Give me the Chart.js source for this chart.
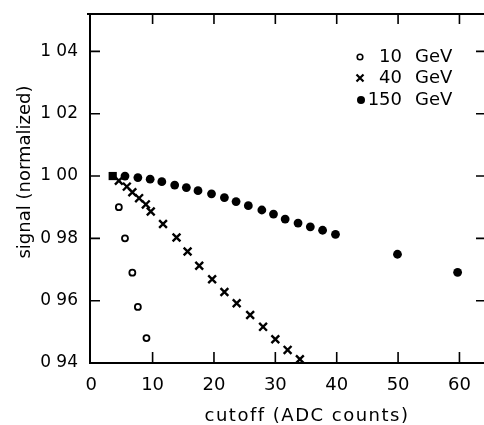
<!DOCTYPE html>
<html>
<head>
<meta charset="utf-8">
<script src="https://cdn.jsdelivr.net/npm/chart.js@4.4.0/dist/chart.umd.min.js"></script>
<style>
  html, body { margin: 0; padding: 0; background: #fff; }
</style>
</head>
<body>
<canvas id="cutoff-chart" width="484" height="425"></canvas>
<script>
const FONT = 'DejaVu Sans'
const INK = '#000'

// axis ticks
const xTickValues = [0, 10, 20, 30, 40, 50, 60]
const xTickLabels = ['0', '10', '20', '30', '40', '50', '60']
const yTickValues = [0.94, 0.96, 0.98, 1.00, 1.02, 1.04]
const yTickLabels = ['0 94', '0 96', '0 98', '1 00', '1 02', '1 04']

// common starting point (drawn as a square)
const startX = [3.5]
const startY = [1.000]

// 10 GeV
const gev10X = [4.5, 5.5, 6.7, 7.6, 9.0]
const gev10Y = [0.990, 0.980, 0.969, 0.958, 0.948]

// 40 GeV
const gev40X = [4.5, 5.8, 6.7, 7.8, 8.9, 9.7, 11.7, 13.9, 15.7, 17.6, 19.7, 21.7, 23.7, 25.9, 28.0, 30.0, 32.0, 34.0]
const gev40Y = [0.9985, 0.9966, 0.9948, 0.9929, 0.9909, 0.9886, 0.9846, 0.9803, 0.9758, 0.9712, 0.9669, 0.9628, 0.9592, 0.9554, 0.9516, 0.9476, 0.9442, 0.9412]

// 150 GeV
const gev150X = [5.5, 7.6, 9.6, 11.5, 13.6, 15.5, 17.4, 19.6, 21.7, 23.6, 25.6, 27.8, 29.7, 31.6, 33.7, 35.7, 37.7, 39.8, 49.9, 59.7]
const gev150Y = [1.0000, 0.9995, 0.9990, 0.9982, 0.9971, 0.9963, 0.9953, 0.9943, 0.9931, 0.9918, 0.9905, 0.9891, 0.9878, 0.9862, 0.9849, 0.9837, 0.9826, 0.9813, 0.9749, 0.9691]

const legendNames = ['10', '40', '150']

const pts = (xs, ys) => xs.map((x, i) => ({ x: x, y: ys[i] }))

// drop the label overflow padding so the plot box sits where the layout says
const noPad = s => { s.paddingTop = 0; s.paddingBottom = 0; s.paddingLeft = 0; s.paddingRight = 0 }

const frame = {
    id: 'frame',
    beforeDatasetsDraw(chart) {
        const { ctx, chartArea: a, scales: { x, y } } = chart
        ctx.save()
        ctx.strokeStyle = INK
        ctx.lineWidth = 2
        ctx.beginPath()
        ctx.moveTo(a.right, a.top)
        ctx.lineTo(a.left - 3, a.top)
        ctx.moveTo(a.left, a.top)
        ctx.lineTo(a.left, a.bottom)
        ctx.lineTo(a.right, a.bottom)
        ctx.stroke()

        ctx.lineWidth = 1.6
        ctx.beginPath()
        yTickValues.forEach(v => {
            const p = y.getPixelForValue(v)
            ctx.moveTo(a.left, p); ctx.lineTo(a.left + 10, p)
            ctx.moveTo(a.right - 8, p); ctx.lineTo(a.right, p)
        })
        xTickValues.slice(1).forEach(v => {
            const p = x.getPixelForValue(v)
            ctx.moveTo(p, a.bottom); ctx.lineTo(p, a.bottom - 11)
            ctx.moveTo(p, a.top); ctx.lineTo(p, a.top + 10)
        })
        ctx.stroke()
        ctx.restore()
    },
    afterDraw(chart) {
        const { ctx } = chart
        ctx.save()
        ctx.fillStyle = INK
        ctx.strokeStyle = INK

        // axis titles
        ctx.font = `18px "${FONT}"`
        ctx.textAlign = 'center'
        ctx.textBaseline = 'middle'
        ctx.letterSpacing = '1.5px'
        ctx.fillText('cutoff (ADC counts)', 307, 416)
        ctx.letterSpacing = '0px'
        ctx.save()
        ctx.translate(25, 172)
        ctx.rotate(-Math.PI / 2)
        ctx.fillText('signal (normalized)', 0, 0)
        ctx.restore()

        // legend
        const rows = [57, 78, 100]
        const mx = 360
        rows.forEach((ry, i) => {
            ctx.textAlign = 'right'
            ctx.fillText(legendNames[i], 402, ry)
            ctx.textAlign = 'left'
            ctx.fillText('GeV', 415, ry)
        })
        ctx.lineWidth = 1.6
        ctx.beginPath()
        ctx.arc(mx, rows[0], 2.8, 0, Math.PI * 2)
        ctx.stroke()
        ctx.lineWidth = 2.2
        ctx.beginPath()
        ctx.moveTo(mx - 3.5, rows[1] - 3.5); ctx.lineTo(mx + 3.5, rows[1] + 3.5)
        ctx.moveTo(mx - 3.5, rows[1] + 3.5); ctx.lineTo(mx + 3.5, rows[1] - 3.5)
        ctx.stroke()
        ctx.beginPath()
        ctx.arc(mx + 1, rows[2], 4, 0, Math.PI * 2)
        ctx.fill()
        ctx.restore()
    }
}

const data = {
    datasets: [
        {
            label: '150 GeV',
            data: pts(gev150X, gev150Y),
            pointStyle: 'circle',
            pointRadius: 4.4,
            backgroundColor: INK,
            borderColor: INK,
            borderWidth: 0
        },
        {
            label: '40 GeV',
            data: pts(gev40X, gev40Y),
            pointStyle: 'crossRot',
            pointRadius: 5.5,
            borderColor: INK,
            borderWidth: 2.4
        },
        {
            label: '10 GeV',
            data: pts(gev10X, gev10Y),
            pointStyle: 'circle',
            pointRadius: 3,
            backgroundColor: '#fff',
            borderColor: INK,
            borderWidth: 1.8
        },
        {
            label: 'start',
            data: pts(startX, startY),
            pointStyle: 'rect',
            pointRadius: 5.8,
            backgroundColor: INK,
            borderColor: INK,
            borderWidth: 0
        }
    ]
}

const config = {
    type: 'scatter',
    data: data,
    options: {
        responsive: false,
        animation: false,
        devicePixelRatio: 1,
        layout: { autoPadding: false, padding: { top: 14, right: 0, left: 0, bottom: 0 } },
        plugins: {
            legend: { display: false },
            tooltip: { enabled: false }
        },
        scales: {
            x: {
                type: 'linear',
                min: -0.2,
                max: 64,
                grid: { display: false, drawTicks: false },
                border: { display: false },
                afterBuildTicks: s => { s.ticks = xTickValues.map(v => ({ value: v })) },
                afterFit: s => { s.height = 62; noPad(s) },
                ticks: {
                    padding: 12,
                    color: INK,
                    maxRotation: 0,
                    autoSkip: false,
                    font: { family: FONT, size: 18 },
                    callback: (v, i) => xTickLabels[i]
                }
            },
            y: {
                type: 'linear',
                min: 0.94,
                max: 1.052,
                grid: { display: false, drawTicks: false },
                border: { display: false },
                afterBuildTicks: s => { s.ticks = yTickValues.map(v => ({ value: v })) },
                afterFit: s => { s.width = 90; noPad(s) },
                ticks: {
                    padding: 12,
                    color: INK,
                    autoSkip: false,
                    font: { family: FONT, size: 17 },
                    callback: (v, i) => yTickLabels[i]
                }
            }
        }
    },
    plugins: [frame]
}

Chart.register(...(Chart.registerables || []))
const chart = new Chart(document.getElementById('cutoff-chart'), config)
</script>
</body>
</html>
